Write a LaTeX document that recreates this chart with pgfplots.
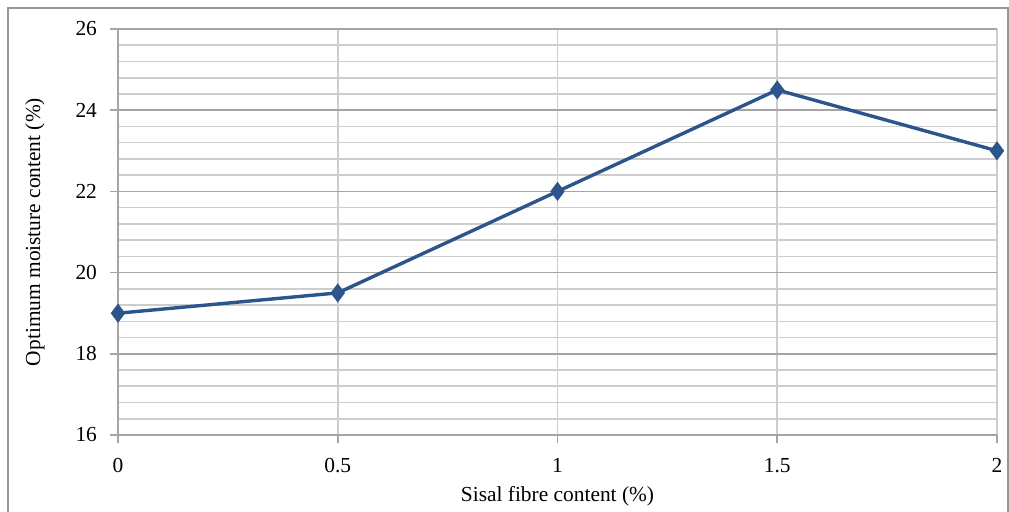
\documentclass[border=0pt]{standalone}
\usepackage{fontspec}
\setmainfont{Liberation Serif}
\usepackage{pgfplots}
\pgfplotsset{compat=1.18}
\definecolor{lineblue}{RGB}{44,85,140}
\definecolor{majgrid}{RGB}{165,165,165}
\definecolor{mingrid}{RGB}{205,205,205}
\definecolor{framegray}{RGB}{150,150,150}
\begin{document}
\begin{tikzpicture}[x=0.5pt,y=0.5pt]
\useasboundingbox (-118,-76) rectangle (891,435);
\draw[framegray,line width=1pt] (-110,-80) -- (-110,427) -- (890,427) -- (890,-80);
\begin{axis}[
  at={(0pt,0pt)}, anchor=south west,
  scale only axis, width=439.5pt, height=203pt,
  xmin=0, xmax=2, ymin=16, ymax=26,
  xtick={0,0.5,1,1.5,2},
  xticklabels={0,0.5,1,1.5,2},
  ytick={16,18,20,22,24,26},
  minor ytick={16.4,16.8,17.2,17.6,18.4,18.8,19.2,19.6,20.4,20.8,21.2,21.6,22.4,22.8,23.2,23.6,24.4,24.8,25.2,25.6},
  grid=both,
  major grid style={majgrid,line width=0.8pt},
  minor grid style={mingrid,line width=0.8pt},
  x grid style={mingrid,line width=0.8pt},
  axis x line*=bottom, axis y line*=left,
  axis line style={majgrid,line width=0.8pt},
  tick style={majgrid,line width=0.8pt},
  major tick length=4pt,
  tick align=outside,
  minor tick length=0pt,
  x tick label style={font=\fontsize{10.7}{12}\selectfont, yshift=-4pt},
  y tick label style={font=\fontsize{10.7}{12}\selectfont, xshift=-3pt},
  /pgf/number format/assume math mode=true,
  xlabel={Sisal fibre content (\%)},
  ylabel={Optimum moisture content (\%)},
  label style={font=\fontsize{10.7}{12}\selectfont},
  xlabel style={yshift=0pt},
  ylabel style={yshift=8.5pt},
  clip=false,
]
\addplot[lineblue, line width=1.7pt, mark=diamond*, mark size=3.4pt, mark options={fill=lineblue,solid}] coordinates {
(0,19.0) (0.5,19.5) (1,22.0) (1.5,24.5) (2,23.0)};
\end{axis}
\end{tikzpicture}
\end{document}
